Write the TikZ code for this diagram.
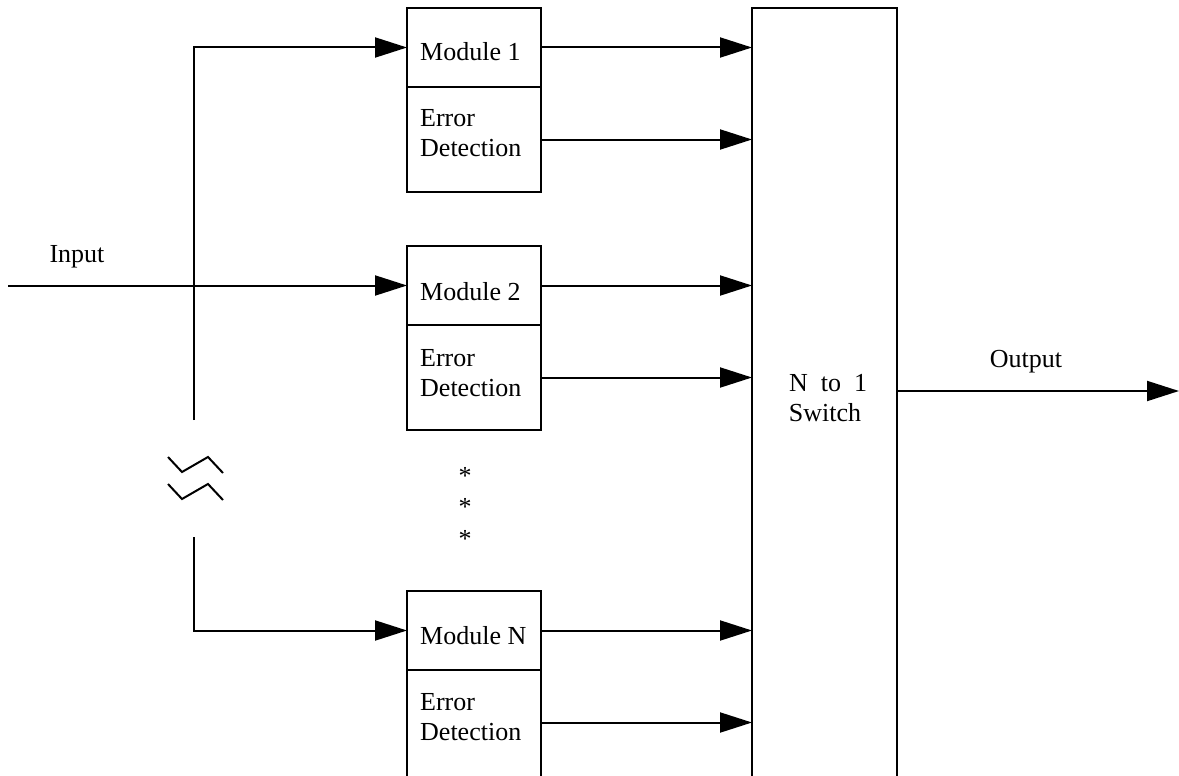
\documentclass[tikz,border=0pt]{standalone}
\usepackage{fontspec}
\setmainfont{Liberation Serif}
\usetikzlibrary{arrows.meta}
\tikzset{
  box/.style={draw, line width=2pt, minimum width=134pt, inner sep=0pt, outer sep=0pt, anchor=north west},
  arr/.style={line width=2pt, -{Triangle[length=32pt,width=20pt]}},
  wire/.style={line width=2pt},
  txt/.style={font=\fontsize{26}{30}\selectfont, inner sep=0pt, anchor=base west},
  ctxt/.style={font=\fontsize{26}{30}\selectfont, inner sep=0pt, anchor=base},
}
\begin{document}
\begin{tikzpicture}[x=1pt, y=-1pt]
\clip (0,0) rectangle (1179,776);
\useasboundingbox (0,0) rectangle (1179,776);

% redundant modules, each with its error detector below
\node[box, minimum height=79pt]  (m1) at (407,8) {};
\node[box, minimum height=105pt] (e1) at (m1.south west) {};
\node[box, minimum height=79pt]  (m2) at (407,246) {};
\node[box, minimum height=105pt] (e2) at (m2.south west) {};
\node[box, minimum height=79pt]  (mN) at (407,591) {};
\node[box, minimum height=120pt] (eN) at (mN.south west) {};

\node[txt] (t1)  at (420,61)  {Module 1};
\node[txt] (d1a) at (420,127) {Error};
\node[txt] (d1b) at (420,157) {Detection};
\node[txt] (t2)  at (420,300) {Module 2};
\node[txt] (d2a) at (420,366) {Error};
\node[txt] (d2b) at (420,396) {Detection};
\node[txt] (tN)  at (420,644) {Module N};
\node[txt] (dNa) at (420,710) {Error};
\node[txt] (dNb) at (420,740) {Detection};

% ellipsis between module 2 and module N
\node[ctxt] (s1) at (465,484) {*};
\node[ctxt] (s2) at (465,515) {*};
\node[ctxt] (s3) at (465,547) {*};

% selector switch
\node[box, minimum width=145pt, minimum height=820pt] (sw) at (752,8) {};
\node[ctxt] (swa) at (828,391) {N\enspace to\enspace 1};
\node[ctxt] (swb) at (825,421) {Switch};

% module outputs into the switch
\foreach \n in {m1,e1,m2,e2,mN}
  \draw[arr] (\n.east) -- (sw.west |- \n.east);
% the last detector runs past the lower edge; its output leaves 52.5pt below its top
\coordinate (eNo) at ([yshift=-52.5pt]mN.south east);
\draw[arr] (eNo) -- (sw.west |- eNo);

% output
\coordinate (out) at (1179,391);
\draw[arr] (sw.east |- out) -- (out);
\node[ctxt] (outl) at (1026,367) {Output};

% input
\coordinate (in) at (m2.west -| 8,0);
\draw[arr] (in) -- (m2.west);
\node[ctxt] (inl) at (77,262) {Input};

% distribution line with a break
\coordinate (brkTop) at (194,420);
\coordinate (brkBot) at (194,537);
\draw[arr] (brkTop) |- (m1.west);
\draw[arr] (brkBot) |- (mN.west);
\draw[wire] (168,457) -- (182,472) -- (208,457) -- (223,473);
\draw[wire] (168,484) -- (182,499) -- (208,484) -- (223,500);
\end{tikzpicture}
\end{document}
